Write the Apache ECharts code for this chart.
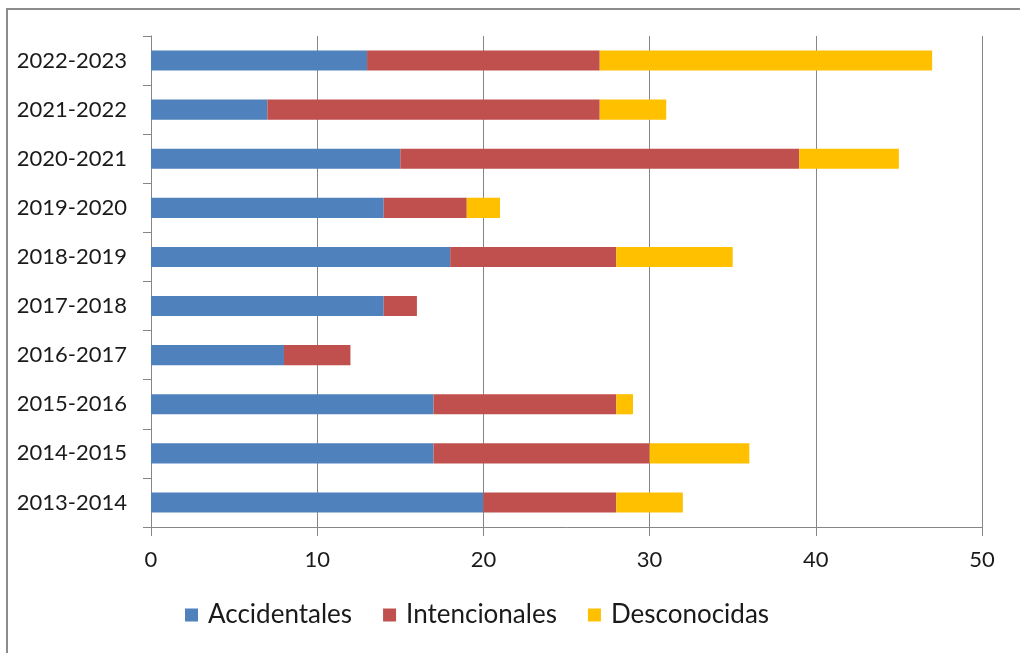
<!DOCTYPE html>
<html>
<head>
<meta charset="utf-8">
<script src="https://cdn.jsdelivr.net/npm/echarts@6/dist/echarts.min.js"></script>
<style>
html,body{margin:0;padding:0;background:#fff;overflow:hidden;}
#frame{position:absolute;left:6px;top:8px;width:1100px;height:700px;border-top:2px solid #8c8c8c;border-left:2px solid #8c8c8c;}
#chart{position:absolute;left:0;top:0;width:1020px;height:653px;}
</style>
</head>
<body>
<div id="frame"></div>
<div id="chart"></div>
<script>
var categories = ['2013-2014','2014-2015','2015-2016','2016-2017','2017-2018','2018-2019','2019-2020','2020-2021','2021-2022','2022-2023'];
var accidentales = [20,17,17,8,14,18,14,15,7,13];
var intencionales = [8,13,11,4,2,10,5,24,20,14];
var desconocidas = [4,6,1,0,0,7,2,6,4,20];
var xTicks = {min:0,max:50,interval:10};

var font = 'Lato, Open Sans, sans-serif';
var chart = echarts.init(document.getElementById('chart'));
function mk(name, data, color){
  return {name:name,type:'bar',stack:'total',data:data,barWidth:'41%',
    itemStyle:{color:color},emphasis:{disabled:true}};
}
chart.setOption({
  animation:false,
  backgroundColor:'transparent',
  grid:{left:151,right:38,top:36,bottom:126,containLabel:false},
  legend:{bottom:20,left:180,itemWidth:13,itemHeight:13,itemGap:31,icon:'rect',
    textStyle:{fontFamily:font,fontSize:26,color:'#1a1a1a',padding:[0,0,0,5]},
    data:['Accidentales','Intencionales','Desconocidas']},
  xAxis:{type:'value',min:xTicks.min,max:xTicks.max,interval:xTicks.interval,
    axisLine:{show:true,lineStyle:{color:'#868686',width:1}},
    axisTick:{show:true,length:9,lineStyle:{color:'#868686'}},
    axisLabel:{fontFamily:font,fontSize:22,color:'#1a1a1a',margin:22},
    splitLine:{show:true,lineStyle:{color:'#868686',width:1}}},
  yAxis:{type:'category',data:categories,
    axisLine:{show:true,lineStyle:{color:'#868686',width:1}},
    axisTick:{show:true,length:8,lineStyle:{color:'#868686'}},
    axisLabel:{fontFamily:font,fontSize:22,color:'#1a1a1a',margin:24}},
  series:[mk('Accidentales',accidentales,'#4F81BD'),mk('Intencionales',intencionales,'#C0504D'),mk('Desconocidas',desconocidas,'#FFC000')]
});
</script>
</body>
</html>
